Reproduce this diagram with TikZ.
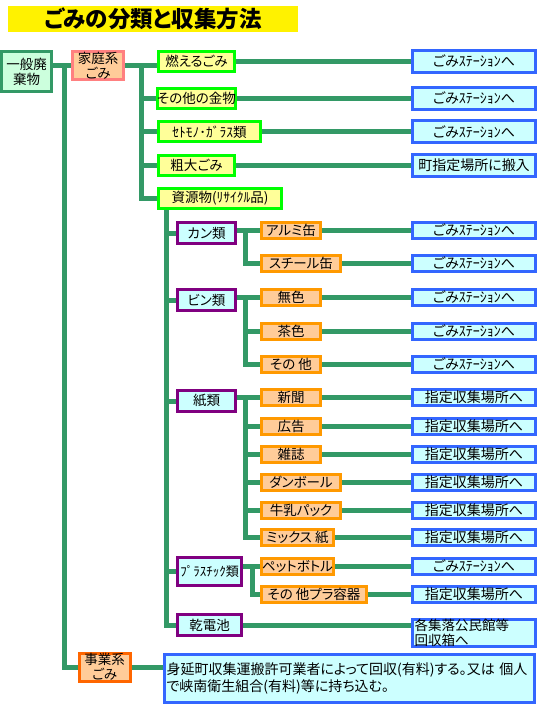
\documentclass[tikz,border=0pt]{standalone}
\usepackage{fontspec}
\setsansfont{Noto Sans CJK JP}[RawFeature=+palt]
\tikzset{every picture/.style={/utils/exec={\sffamily}}}
\usetikzlibrary{calc}
\usetikzlibrary{backgrounds}
\definecolor{linegreen}{RGB}{51,153,102}
\definecolor{mint}{RGB}{204,255,221}
\definecolor{peach}{RGB}{255,204,153}
\definecolor{salmon}{RGB}{255,128,128}
\definecolor{lemon}{RGB}{255,255,153}
\definecolor{lime}{RGB}{0,255,0}
\definecolor{icecyan}{RGB}{204,255,255}
\definecolor{plum}{RGB}{128,0,128}
\definecolor{amber}{RGB}{255,153,0}
\definecolor{royal}{RGB}{51,102,255}
\definecolor{tangerine}{RGB}{255,102,0}
\tikzset{every node/.style={align=center, inner sep=0pt,
           font=\fontsize{13.5}{15}\selectfont},
         titlebar/.style={ % Yellow band behind the title
           fill=yellow, minimum width=290pt, minimum height=26pt,
           font=\fontsize{22.5}{22.5}\bfseries},
         rootbox/.style={draw=linegreen, fill=mint, line width=3pt,
           minimum width=50pt, minimum height=40pt},
         homebox/.style={draw=salmon, fill=peach, line width=3pt,
           minimum width=51pt, minimum height=28pt},
         kindbox/.style={ % Second level, green frame
           draw=lime, fill=lemon, line width=3pt,
           minimum width=76pt, minimum height=20pt},
         groupbox/.style={ % Recycling groups
           draw=plum, fill=icecyan, line width=3pt,
           minimum width=58pt, minimum height=21pt},
         itembox/.style={draw=amber, fill=peach, line width=3pt,
           minimum width=59pt, minimum height=16pt},
         destbox/.style={ % Where it goes
           draw=royal, fill=icecyan, line width=3pt,
           minimum width=123pt, minimum height=16pt,
           font=\fontsize{14}{15}\selectfont},
         conn/.style={draw=linegreen, line width=5pt}}

\begin{document}
\begin{tikzpicture}[x=1pt, y=-1pt]
  \useasboundingbox (0,0) rectangle (550,719);
  \node [titlebar] (title) at (153,19) {ごみの分類と収集方法};

  \node [rootbox] (ippan) at (26.5,71.5) {一般廃\\棄物};
  \node [homebox] (katei) at (98,66) {家庭系\\ごみ};
  \node [homebox, draw=tangerine] (jigyo) at (104.5,667) {事業系\\ごみ};

  \node [kindbox] (moeru) at (196.5,61.5) {燃えるごみ};
  \node [kindbox] (kinbutsu) at (196.5,98.5) {その他の金物};
  \node [kindbox, minimum width=102pt] (setomono) at (209.5,132) {ｾﾄﾓﾉ･ｶﾞﾗｽ類};
  \node [kindbox] (sodai) at (196.5,165.5) {粗大ごみ};
  \node [kindbox, minimum width=123pt] (shigen) at (220,198.5) {資源物(ﾘｻｲｸﾙ品)};

  \node [groupbox] (kan) at (206.5,233) {カン類};
  \node [groupbox] (bin) at (206.5,300) {ビン類};
  \node [groupbox] (kami) at (206.5,401) {紙類};
  \node [groupbox, minimum width=64pt, minimum height=28pt,
    font=\fontsize{13}{14}\selectfont] (pura) at (209.5,571.5) {ﾌﾟﾗｽﾁｯｸ類};
  \node [groupbox, minimum width=64pt] (kandenchi) at (209.5,625) {乾電池};

  \node [itembox] (arumi) at (291,230.5) {アルミ缶};
  \node [itembox, minimum width=79pt] (steel) at (301,263.5) {スチール缶};
  \node [itembox] (mushoku) at (291,297.5) {無色};
  \node [itembox] (chairo) at (291,331.5) {茶色};
  \node [itembox] (sonota) at (291,364.5) {その 他};
  \node [itembox] (shinbun) at (291,397.5) {新聞};
  \node [itembox] (kokoku) at (291,426) {広告};
  \node [itembox] (zasshi) at (291,454) {雑誌};
  \node [itembox, minimum width=79pt] (danboru) at (301,482.5) {ダンボール};
  \node [itembox, minimum width=79pt] (gyunyu) at (301,510.5) {牛乳パック};
  \node [itembox, minimum width=72pt] (mix) at (297.5,537.5) {ミックス 紙};
  \node [itembox, minimum width=72pt] (pet) at (297.5,566) {ペットボトル};
  \node [itembox, minimum width=105pt] (sonotapura) at (314,594) {その 他プラ容器};

  \coordinate (destx) at (474,0);
  \node [destbox, minimum height=22pt] (moeruto) at (474,61.5) {ごみｽﾃｰｼｮﾝへ};
  \node [destbox, minimum height=22pt] (kinbutsuto) at (474,98.5) {ごみｽﾃｰｼｮﾝへ};
  \node [destbox, minimum height=22pt] (setomonoto) at (474,132) {ごみｽﾃｰｼｮﾝへ};
  \node [destbox, minimum height=22pt] (sodaito) at (474,165.5) {町指定場所に搬入};
  \foreach \n in {arumi,steel,mushoku,chairo,sonota,pet}
    \node [destbox] (\n to) at (\n -| destx) {ごみｽﾃｰｼｮﾝへ};
  \foreach \n in {shinbun,kokoku,zasshi,danboru,gyunyu,mix,sonotapura}
    \node [destbox] (\n to) at (\n -| destx) {指定収集場所へ};
  \node [destbox, minimum height=27pt, text width=119pt, align=left,
    font=\fontsize{13.5}{15}\selectfont]
    (kandenchito) at (474,633) {各集落公民館等\\回収箱へ};
  \node [destbox, minimum width=370pt, minimum height=48pt, text width=366pt,
    align=left, font=\fontsize{14}{17}\selectfont] (jigyoto) at (349.5,678.5)
    {身延町収集運搬許可業者によって回収(有料)する。又は 個人\\
     で峡南衛生組合(有料)等に持ち込む。};

  \coordinate (t1) at (64,66);
  \coordinate (t2) at (141,66);
  \coordinate (t3) at (166.5,209);
  \coordinate (kans) at (245,231);
  \coordinate (bins) at (245,298);
  \coordinate (kamis) at (245,398);
  \coordinate (puras) at (252,566);

  \begin{scope}[on background layer]
    \draw [conn] (ippan.east |- katei) -- (katei);
    \draw [conn] (t1) |- (jigyo);
    \draw [conn] (katei) -- (katei -| moeru.west);
    \draw [conn] (t2) |- (shigen);
    \foreach \n in {kinbutsu,setomono,sodai}
      \draw [conn] (t2 |- \n) -- (\n);
    \draw [conn] (t3) |- (kandenchi);
    \foreach \n in {kan,bin,kami,pura}
      \draw [conn] (t3 |- \n) -- (\n);

    \draw [conn] (kan.east |- arumi) -- (arumi);
    \draw [conn] (kans) |- (steel);
    \draw [conn] (bin.east |- mushoku) -- (mushoku);
    \draw [conn] (bins) |- (sonota);
    \draw [conn] (bins |- chairo) -- (chairo);
    \draw [conn] (kami.east |- shinbun) -- (shinbun);
    \draw [conn] (kamis) |- (mix);
    \foreach \n in {kokoku,zasshi,danboru,gyunyu}
      \draw [conn] (kamis |- \n) -- (\n);
    \draw [conn] (pura.east |- pet) -- (pet);
    \draw [conn] (puras) |- (sonotapura);

    \foreach \n in {moeru,kinbutsu,setomono,sodai,arumi,steel,mushoku,chairo,
      sonota,shinbun,kokoku,zasshi,danboru,gyunyu,mix,pet,sonotapura}
      \draw [conn] (\n) -- (\n to);
    \draw [conn] (kandenchi) -- (kandenchi -| kandenchito.west);
    \draw [conn] (jigyo) -- (jigyo -| jigyoto.west);
  \end{scope}
\end{tikzpicture}
\end{document}
